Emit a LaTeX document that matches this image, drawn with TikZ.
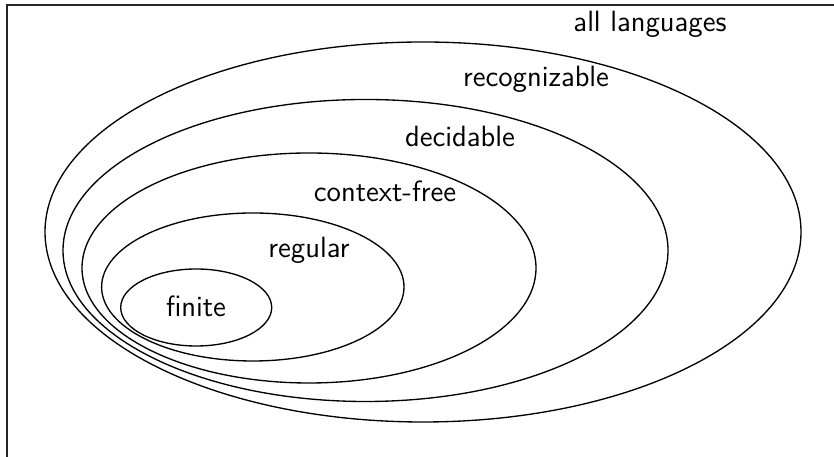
\documentclass[tikz,border=0pt]{standalone}
\usepackage{tikz}
\usetikzlibrary{positioning}

\begin{document}
\begin{tikzpicture}[x=0.375pt,y=-0.375pt,font=\sffamily\fontsize{11}{13}\selectfont]
		
		\useasboundingbox (0,0) rectangle (834,457);
		
		% Frame
		\draw[line width=0.8pt,black!85] (7,457)--(7,5)--(834,5);
		
		% Language classes
		\draw[line width=0.5pt] (423,232) ellipse [x radius=378, y radius=190];
		\draw[line width=0.5pt] (365.5,250.5) ellipse [x radius=302.5, y radius=151];
		\draw[line width=0.5pt] (309,268) ellipse [x radius=227, y radius=115];
		\draw[line width=0.5pt] (252.8,287) ellipse [x radius=151.2, y radius=74];
		\draw[line width=0.5pt] (196.2,307.5) ellipse [x radius=75.5, y radius=38.5];
		
		% Labels
		\node[anchor=base] (all) at (650,32){all languages};
		\node[anchor=base] (rec) at (536,86.7){recognizable};
		\node[anchor=base] (dec) at (460,147){decidable};
		\node[anchor=base] (cfl) at (385,202){context-free};
		\node[anchor=base] (reg) at (309,258){regular};
		\node[anchor=base] (fin) at (196,317){finite};
		
	\end{tikzpicture}
\end{document}
